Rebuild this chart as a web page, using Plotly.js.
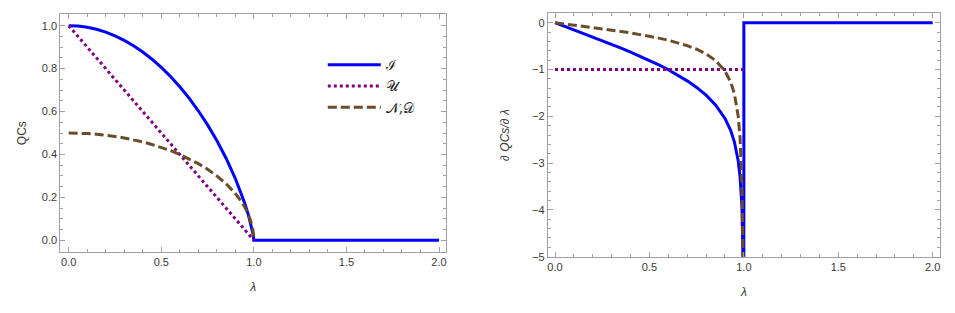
<!DOCTYPE html>
<html><head><meta charset="utf-8">
<script src="https://cdn.plot.ly/plotly-3.0.1.min.js"></script>
<style>html,body{margin:0;padding:0;background:#fff}#plot{width:955px;height:313px}</style>
</head><body><div id="plot"></div>
<script>
// λ grid
const lam = [0,0.05,0.1,0.15,0.2,0.25,0.3,0.35,0.4,0.45,0.5,0.55,0.6,0.65,0.7,0.75,0.8,0.85,0.9,0.93,0.95,0.97,0.98,0.99,0.995,1];
const lamTail = [1, 2];
const lamU = [0, 1];

// Left panel: QCs
const qcI  = [1,0.9981,0.9925,0.9831,0.9699,0.9528,0.9317,0.9067,0.8774,0.8439,0.8059,0.7632,0.7155,0.6625,0.6035,0.5379,0.4648,0.3824,0.2878,0.2228,0.1745,0.1198,0.0888,0.0530,0.0316,0];
const qcITail = [0, 0];
const qcU  = [1, 0];
const qcND = [0.5,0.4994,0.4975,0.4943,0.4899,0.4841,0.4770,0.4684,0.4583,0.4465,0.4330,0.4176,0.4,0.3800,0.3571,0.3307,0.3,0.2634,0.2179,0.1838,0.1561,0.1216,0.0995,0.0705,0.0499,0];

// Right panel: dQCs/dλ
const dI  = [0,-0.0751,-0.1504,-0.2263,-0.3031,-0.3811,-0.4607,-0.5424,-0.6267,-0.7143,-0.8059,-0.9028,-1.0062,-1.1184,-1.2425,-1.3833,-1.5492,-1.7567,-2.0448,-2.3010,-2.5501,-2.9510,-3.2953,-3.9538,-4.7228,-6];
const dITail = [0, 0];
const dU  = [-1, -1];
const dND = [0,-0.0250,-0.0503,-0.0759,-0.1021,-0.1291,-0.1572,-0.1868,-0.2182,-0.2520,-0.2887,-0.3293,-0.375,-0.4277,-0.4901,-0.5670,-0.6667,-0.8068,-1.0324,-1.2651,-1.5212,-1.9950,-2.4624,-3.5090,-4.9812,-6];

const names = ['ℐ', '𝒰', '𝒩,𝒟'];
const cBlue = '#0000ff', cPurple = '#800080', cBrown = '#6b4c2a';

const traces = [
  {x: lam.concat(lamTail), y: qcI.concat(qcITail), xaxis:'x', yaxis:'y', name: names[0], mode:'lines',
   line:{color:cBlue, width:3}},
  {x: lamU, y: qcU, xaxis:'x', yaxis:'y', name: names[1], mode:'lines',
   line:{color:cPurple, width:3, dash:'3px,3px'}},
  {x: lam, y: qcND, xaxis:'x', yaxis:'y', name: names[2], mode:'lines',
   line:{color:cBrown, width:3, dash:'9px,4px'}},
  {x: lam.concat(lamTail), y: dI.concat(dITail), xaxis:'x2', yaxis:'y2', showlegend:false, mode:'lines',
   line:{color:cBlue, width:3}},
  {x: lamU, y: dU, xaxis:'x2', yaxis:'y2', showlegend:false, mode:'lines',
   line:{color:cPurple, width:3, dash:'3px,3px'}},
  {x: lam, y: dND, xaxis:'x2', yaxis:'y2', showlegend:false, mode:'lines',
   line:{color:cBrown, width:3, dash:'9px,4px'}}
];

const frame = '#a0a0a0';
const tickFont = {family:'Liberation Sans, Arial, sans-serif', size:11, color:'#3a3a3a'};
function ax(extra){
  return Object.assign({
    showline:true, linecolor:frame, linewidth:1, mirror:'ticks',
    ticks:'inside', ticklen:5, tickcolor:frame, tickwidth:1,
    showgrid:false, zeroline:false, tickfont:tickFont, automargin:false,
  }, extra);
}
const titleFont = {family:'Liberation Sans, Arial, sans-serif', size:12, color:'#3a3a3a'};

const layout = {
  width:955, height:313,
  margin:{l:0, r:0, t:0, b:0},
  paper_bgcolor:'#fff', plot_bgcolor:'#fff',
  font:{family:'Liberation Sans, Arial, sans-serif'},
  xaxis: ax({domain:[0.06314,0.46702], range:[-0.0454,2.0378], dtick:0.5, tick0:0, tickformat:'.1f',
    minor:{ticks:'inside', ticklen:3, dtick:0.1, tick0:0, tickcolor:frame},
    anchor:'y', title:{text:'<i>λ</i>', font:titleFont, standoff:15}}),
  yaxis: ax({domain:[0.19489,0.95431], range:[-0.0545,1.0531], dtick:0.2, tick0:0, tickformat:'.1f',
    minor:{ticks:'inside', ticklen:3, dtick:0.05, tick0:0, tickcolor:frame},
    anchor:'x', title:{text:'QCs', font:titleFont, standoff:12}}),
  xaxis2: ax({domain:[0.57351,0.98429], range:[-0.0387,2.0387], dtick:0.5, tick0:0, tickformat:'.1f',
    minor:{ticks:'inside', ticklen:3, dtick:0.1, tick0:0, tickcolor:frame},
    anchor:'y2', title:{text:'<i>λ</i>', font:titleFont, standoff:15}}),
  yaxis2: ax({domain:[0.17987,0.95751], range:[-5,0.2009], dtick:1, tick0:0,
    minor:{ticks:'inside', ticklen:3, dtick:0.2, tick0:0, tickcolor:frame},
    anchor:'x2', title:{text:'<i>∂ QCs/∂ λ</i>', font:titleFont, standoff:19}}),
  showlegend:true,
  legend:{x:0.338, y:0.843, xanchor:'left', yanchor:'top', bgcolor:'rgba(0,0,0,0)',
    font:{family:'DejaVu Serif, serif', size:14, color:'#222'}, itemwidth:53, tracegroupgap:0}
};

Plotly.newPlot('plot', traces, layout, {staticPlot:true, displayModeBar:false});
</script></body></html>
